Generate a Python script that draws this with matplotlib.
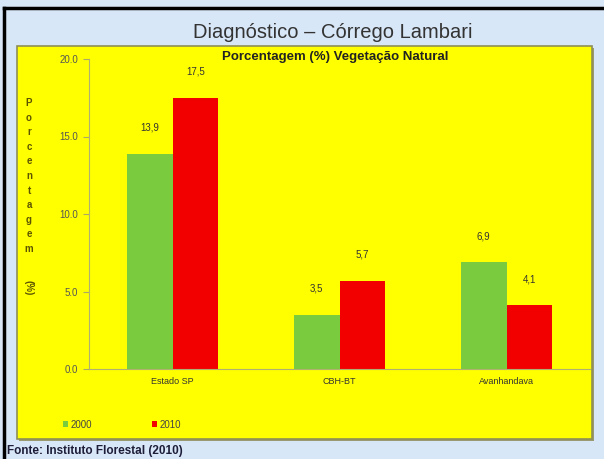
import numpy as np
import matplotlib.pyplot as plt
from matplotlib.patches import Rectangle

plt.rcParams['font.family'] = ['Liberation Sans', 'DejaVu Sans']

categorias = ['Estado SP', 'CBH-BT', 'Avanhandava']
anos = ['2000', '2010']
valores_2000 = [13.9, 3.5, 6.9]
valores_2010 = [17.5, 5.7, 4.1]
yticks = [0, 5, 10, 15, 20]

verde = '#7acb3e'
vermelho = '#f20000'
amarelo = '#ffff00'
fundo = '#d8e7f7'

fig = plt.figure(figsize=(6.04, 4.59), dpi=100, facecolor=fundo)

# moldura preta (esquerda e topo)
fig.add_artist(plt.Line2D([4 / 604, 4 / 604], [0, 1 - 8 / 459], color='black', lw=2.5))
fig.add_artist(plt.Line2D([4 / 604, 1], [1 - 8 / 459, 1 - 8 / 459], color='black', lw=2.5))

# painel amarelo com sombra
sombra = Rectangle((19 / 604, 1 - 441 / 459), 575 / 604, 393 / 459,
                   transform=fig.transFigure, facecolor='#9a9a70', edgecolor='none', zorder=-2)
painel = Rectangle((17 / 604, 1 - 439 / 459), 575 / 604, 393 / 459,
                   transform=fig.transFigure, facecolor=amarelo, edgecolor='#8f8f55',
                   lw=1.2, zorder=-1)
fig.add_artist(sombra)
fig.add_artist(painel)

ax = fig.add_axes([89 / 604, 1 - 369 / 459, 501 / 604, 310 / 459])
ax.set_facecolor(amarelo)
ax.patch.set_alpha(0)

x = np.arange(len(categorias))
w = 0.275
b1 = ax.bar(x - w / 2, valores_2000, w, color=verde, label=anos[0])
b2 = ax.bar(x + w / 2, valores_2010, w, color=vermelho, label=anos[1])
ax.bar_label(b1, labels=[f'{v:.1f}'.replace('.', ',') for v in valores_2000],
             padding=15, fontsize=7, color='#333333')
ax.bar_label(b2, labels=[f'{v:.1f}'.replace('.', ',') for v in valores_2010],
             padding=15, fontsize=7, color='#333333')

ax.set_xlim(-0.5, 2.5)
ax.set_ylim(0, 20)
ax.set_yticks(yticks)
ax.set_yticklabels([f'{t:.1f}' for t in yticks], fontsize=7, color='#555555')
ax.set_xticks(x)
ax.set_xticklabels(categorias, fontsize=6.5, color='#333333')
ax.tick_params(axis='y', length=4, color='#aaaa66', pad=4)
ax.tick_params(axis='x', length=0, pad=6)
for s in ['top', 'right']:
    ax.spines[s].set_visible(False)
for s in ['left', 'bottom']:
    ax.spines[s].set_color('#b0b070')
    ax.spines[s].set_linewidth(0.8)

fig.text(0.551, 1 - 33 / 459, 'Diagnóstico – Córrego Lambari', ha='center', va='center',
         fontsize=14.5, color='#333333')
fig.text(0.555, 1 - 57 / 459, 'Porcentagem (%) Vegetação Natural', ha='center', va='center',
         fontsize=9.5, fontweight='bold', color='#222222')

# rotulo vertical com letras empilhadas
letras = 'Porcentagem'
for i, c in enumerate(letras):
    fig.text(29 / 604, 1 - (103 + i * 14.6) / 459, c, ha='center', va='center',
             fontsize=7, fontweight='bold', color='#5c5400')
fig.text(29 / 604, 1 - 288 / 459, '(%)', ha='center', va='center', rotation=270,
         fontsize=7, fontweight='bold', color='#5c5400')

# legenda
leg = ax.legend(loc='upper left', bbox_to_anchor=(-0.07, -0.135), ncol=2, frameon=False,
                fontsize=7, handlelength=0.5, handleheight=0.5, handletextpad=0.3,
                columnspacing=6.2)
for t in leg.get_texts():
    t.set_color('#444444')

fig.text(7 / 604, 1 - 451 / 459, 'Fonte: Instituto Florestal (2010)', ha='left', va='center',
         fontsize=8.5, fontweight='bold', color='#1e1e3a')

fig.savefig('out.png', dpi=100, facecolor=fundo)
